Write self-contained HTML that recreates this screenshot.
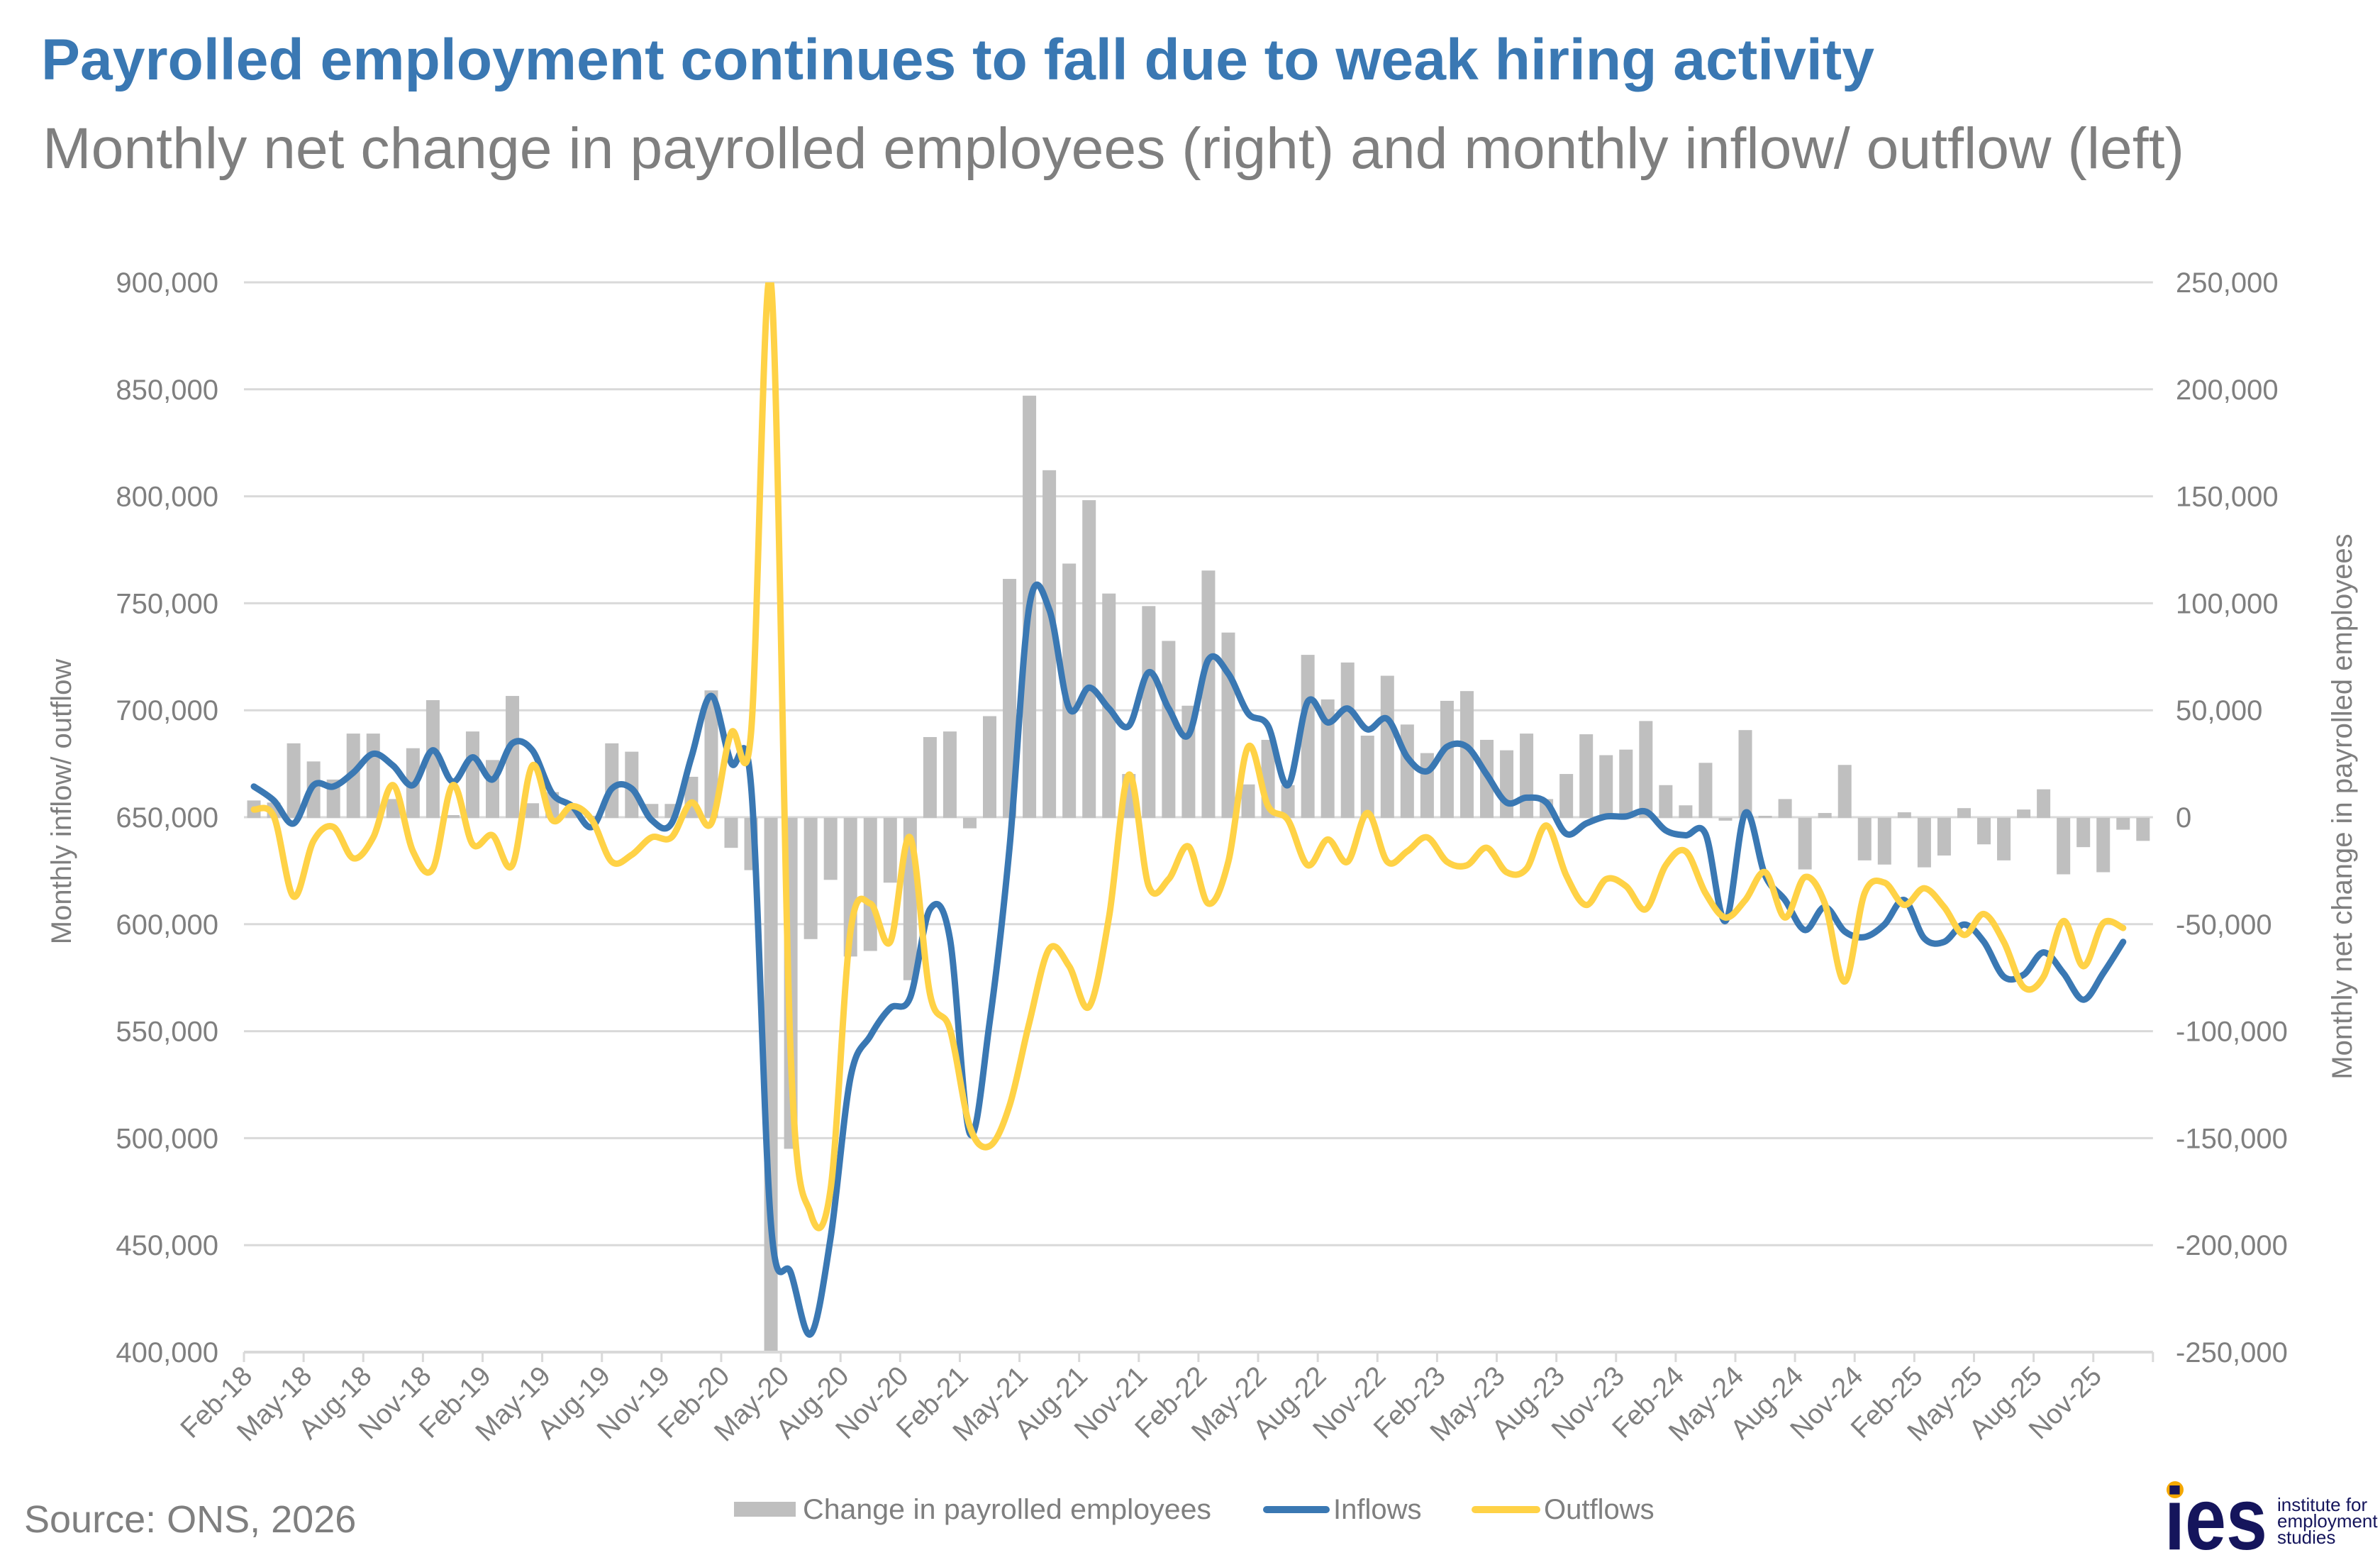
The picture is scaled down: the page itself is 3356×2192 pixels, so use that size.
<!DOCTYPE html>
<html><head><meta charset="utf-8"><style>
html,body{margin:0;padding:0;background:#fff;}
svg{display:block;font-family:"Liberation Sans",Arial,sans-serif;}
</style></head><body>
<svg id="c" width="3356" height="2192" viewBox="0 0 3356 2192" xmlns="http://www.w3.org/2000/svg">
<defs><clipPath id="pc"><rect x="344" y="398" width="2692" height="1508"/></clipPath></defs>
<rect width="3356" height="2192" fill="#fff"/>
<text x="58" y="112" font-size="82" font-weight="bold" fill="#3A78B3" textLength="2585" lengthAdjust="spacingAndGlyphs">Payrolled employment continues to fall due to weak hiring activity</text>
<text x="60" y="237" font-size="82" fill="#7F7F7F" textLength="3020" lengthAdjust="spacingAndGlyphs">Monthly net change in payrolled employees (right) and monthly inflow/ outflow (left)</text>
<g id="grid"></g>
<g id="bars" clip-path="url(#pc)"></g>
<g id="lines" clip-path="url(#pc)"></g>
<g id="axes"></g>
<text transform="translate(100,1130) rotate(-90)" text-anchor="middle" font-size="40" fill="#7F7F7F">Monthly inflow/ outflow</text>
<text transform="translate(3316,1137) rotate(-90)" text-anchor="middle" font-size="40" fill="#7F7F7F">Monthly net change in payrolled employees</text>
<text x="34" y="2160" font-size="54" fill="#7F7F7F">Source: ONS, 2026</text>
<rect x="1035" y="2117" width="87" height="21" fill="#BFBFBF"/>
<text x="1132" y="2141" font-size="40" fill="#7F7F7F" textLength="576" lengthAdjust="spacingAndGlyphs">Change in payrolled employees</text>
<line x1="1786" y1="2128" x2="1870" y2="2128" stroke="#3A78B3" stroke-width="10" stroke-linecap="round"/>
<text x="1880" y="2141" font-size="40" fill="#7F7F7F">Inflows</text>
<line x1="2080" y1="2128" x2="2167" y2="2128" stroke="#FFD246" stroke-width="10" stroke-linecap="round"/>
<text x="2177" y="2141" font-size="40" fill="#7F7F7F">Outflows</text>
<circle cx="3067" cy="2100" r="12" fill="#F5A800"/>
<text x="3052" y="2184" font-size="124" font-weight="bold" fill="#15155C" textLength="145" lengthAdjust="spacingAndGlyphs">ies</text>
<text x="3211" y="2130" font-size="26" fill="#15155C">institute for</text>
<text x="3211" y="2153" font-size="26" fill="#15155C">employment</text>
<text x="3211" y="2176" font-size="26" fill="#15155C">studies</text>
</svg>
<script>
(function(){
var NS="http://www.w3.org/2000/svg";
function el(p,t,a,txt){var e=document.createElementNS(NS,t);for(var k in a)e.setAttribute(k,a[k]);if(txt!==undefined)e.textContent=txt;p.appendChild(e);return e;}
var L=344,W=28.04,T=398,B=1906,ST=150.8;
function Y(z){return 380+z*0.9821;}
function X(i){return L+(i+0.5)*W;}
var grid=document.getElementById('grid'),axes=document.getElementById('axes'),bars=document.getElementById('bars'),lines=document.getElementById('lines');
var ll=["900,000","850,000","800,000","750,000","700,000","650,000","600,000","550,000","500,000","450,000","400,000"];
var rl=["250,000","200,000","150,000","100,000","50,000","0","-50,000","-100,000","-150,000","-200,000","-250,000"];
for(var k=0;k<=10;k++){var y=T+k*ST;
 if(k<10)el(grid,'line',{x1:L,x2:L+96*W,y1:y,y2:y,stroke:'#D9D9D9','stroke-width':3});
 el(axes,'text',{x:308,y:y+14,'text-anchor':'end','font-size':40,fill:'#7F7F7F'},ll[k]);
 el(axes,'text',{x:3068,y:y+14,'font-size':40,fill:'#7F7F7F'},rl[k]);}
el(axes,'line',{x1:L,x2:L+96*W,y1:B,y2:B,stroke:'#D9D9D9','stroke-width':4});
var mon=["Feb","May","Aug","Nov"];
for(var k=0;k<=32;k++){var x=L+3*k*W;
 el(axes,'line',{x1:x,x2:x,y1:B,y2:B+14,stroke:'#D9D9D9','stroke-width':3});
 if(k<32){var yr=18+Math.floor(k/4);
  el(axes,'text',{transform:'translate('+(x+14)+','+(B+36)+') rotate(-45)','text-anchor':'end','font-size':39,fill:'#7F7F7F'},mon[k%4]+'-'+yr);}}
var bz=[762,765,680,706,732,666,666,760,687,618,783,663,704,612,766,750,770,784,680,692,767,767,728,604,830,862,1560,1262,961,876,986,978,880,1020,671,663,802,641,444,181,288,422,331,465,724,483,533,626,432,521,739,675,740,553,617,564,669,583,653,694,619,605,675,690,666,760,724,667,697,689,648,740,769,708,791,661,784,760,861,780,711,848,854,779,858,841,773,825,848,775,746,868,829,865,804,820];
var y0=Y(787);
bz.forEach(function(z,i){var y=Y(z);el(bars,'rect',{x:X(i)-9.5,width:19,y:Math.min(y,y0),height:Math.abs(y-y0),fill:'#BFBFBF'});});
var blue=[742,762,795,740,742,722,695,712,740,690,735,700,732,680,690,752,770,800,745,745,790,795,700,612,708,740,1370,1440,1528,1390,1160,1100,1060,1045,918,960,1240,1080,830,482,488,630,600,630,655,578,630,668,560,580,637,655,740,620,650,630,660,645,700,720,685,685,725,765,758,765,810,795,785,785,778,805,812,810,935,780,870,905,948,915,950,958,940,905,960,965,940,965,1015,1012,980,1010,1048,1010,965];
var yel=[775,785,900,820,800,845,815,740,835,860,740,825,812,855,712,790,770,790,850,840,815,815,765,795,665,665,18,1130,1355,1320,950,910,965,815,1040,1090,1230,1258,1200,1080,975,1000,1058,930,725,885,875,828,910,850,685,770,790,855,818,850,780,850,835,815,850,855,830,865,860,798,870,912,875,885,918,855,835,895,930,905,865,930,872,910,1022,895,880,912,888,915,955,925,965,1030,1015,935,1000,938,945];
function path(a){var p=a.map(function(z,i){return [X(i),Y(z)];});var d='M'+p[0][0].toFixed(1)+' '+p[0][1].toFixed(1);
 for(var i=0;i<p.length-1;i++){var p0=p[i>0?i-1:i],p1=p[i],p2=p[i+1],p3=p[i+2<p.length?i+2:i+1];
  var c1x=p1[0]+(p2[0]-p0[0])/6,c1y=p1[1]+(p2[1]-p0[1])/6,c2x=p2[0]-(p3[0]-p1[0])/6,c2y=p2[1]-(p3[1]-p1[1])/6;
  d+=' C'+c1x.toFixed(1)+' '+c1y.toFixed(1)+' '+c2x.toFixed(1)+' '+c2y.toFixed(1)+' '+p2[0].toFixed(1)+' '+p2[1].toFixed(1);}
 return d;}
el(lines,'path',{d:path(blue),fill:'none',stroke:'#3A78B3','stroke-width':9,'stroke-linejoin':'round','stroke-linecap':'round'});
el(lines,'path',{d:path(yel),fill:'none',stroke:'#FFD246','stroke-width':9,'stroke-linejoin':'round','stroke-linecap':'round'});
})();
</script>
</body></html>
